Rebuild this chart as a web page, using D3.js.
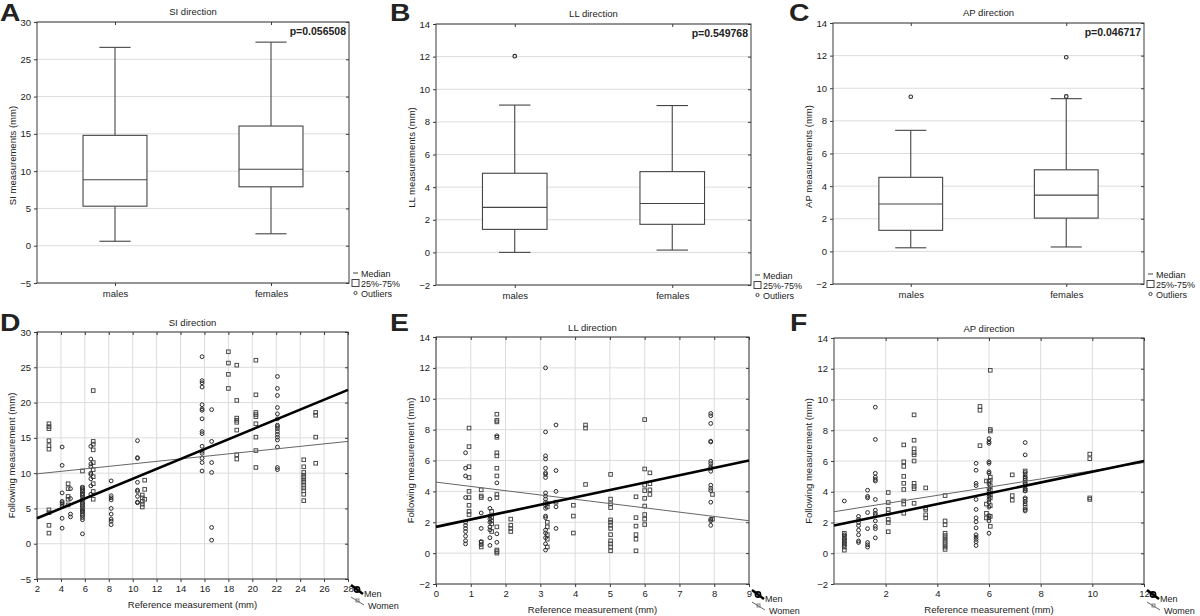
<!DOCTYPE html>
<html><head><meta charset="utf-8">
<script src="https://cdn.jsdelivr.net/npm/d3@7"></script>
<style>
body{margin:0;background:#fff}
text{font-family:"Liberation Sans",Arial,sans-serif;fill:#222}
</style>
</head><body>
<svg id="c" width="1200" height="616"></svg>
<script>
// ---------- DATA ----------
const boxGroups = ["males", "females"];
// [min, q1, median, q3, max]
const siMales   = [0.6, 5.3, 8.85, 14.8, 26.6];
const siFemales = [1.6, 7.9, 10.25, 16.05, 27.3];
const llMales   = [0.0, 1.41, 2.76, 4.85, 9.03];
const llFemales = [0.14, 1.72, 3.0, 4.95, 9.0];
const apMales   = [0.22, 1.29, 2.9, 4.54, 7.42];
const apFemales = [0.27, 2.04, 3.45, 5.0, 9.36];
const siMalesOut = [], siFemalesOut = [];
const llMalesOut = [12.03], llFemalesOut = [];
const apMalesOut = [9.48], apFemalesOut = [11.9, 9.5];
const pValues = ["p=0.056508", "p=0.549768", "p=0.046717"];

const siTicks = [-5, 0, 5, 10, 15, 20, 25, 30];
const smallTicks = [-2, 0, 2, 4, 6, 8, 10, 12, 14];
const siXTicks = [2, 4, 6, 8, 10, 12, 14, 16, 18, 20, 22, 24, 26, 28];
const llXTicks = [0, 1, 2, 3, 4, 5, 6, 7, 8, 9];
const apXTicks = [2, 4, 6, 8, 10, 12];

// scatter: [reference x, [following y values]]
const siMen = [
  [4.1, [13.7, 11.1, 7.2, 6.0, 5.8, 5.6, 5.3, 3.6, 2.2]],
  [4.8, [7.8, 6.4, 4.2, 3.8]],
  [5.8, [8.0, 7.7, 7.4, 7.1, 6.8, 6.2, 5.7, 5.3, 4.8, 4.5, 4.0, 3.7, 3.4, 1.4]],
  [6.5, [13.8, 12.0, 11.3, 10.9, 10.0, 9.8, 9.2, 8.2, 7.0]],
  [8.2, [8.9, 6.8, 6.5, 6.2, 5.0, 4.2, 3.5, 3.2, 2.7]],
  [10.4, [14.6, 12.2, 12.1, 8.7, 7.6, 7.4, 6.7, 5.9, 5.8]],
  [15.8, [26.5, 23.1, 22.8, 22.2, 19.7, 19.1, 18.9, 17.7, 15.9, 15.6, 13.8, 13.1, 12.8, 12.1, 11.5, 10.3]],
  [16.6, [19.0, 14.5, 11.5, 10.1, 2.3, 0.5]],
  [22.1, [23.7, 22.0, 21.0, 19.3, 18.4, 17.7, 16.8, 16.6, 16.3, 15.9, 15.5, 15.1, 14.7, 13.7, 10.8, 10.5]]
];
const siWomen = [
  [3.0, [17.0, 16.6, 16.3, 14.6, 13.9, 13.4, 4.8, 4.4, 2.6, 1.5]],
  [4.6, [8.5, 7.8, 6.7, 6.3, 5.5]],
  [5.8, [10.3, 7.9, 7.5, 7.0, 6.5, 6.0, 5.5, 5.0, 4.6, 4.2]],
  [6.7, [21.7, 14.5, 14.1, 13.3, 11.5, 10.5, 9.5, 8.5, 7.4, 6.3]],
  [10.8, [6.9, 6.5, 6.0, 5.6, 5.2]],
  [11.0, [9.0, 7.7, 6.3]],
  [18.0, [27.2, 25.6, 24.0, 22.0]],
  [18.7, [25.3, 20.3, 17.8, 17.5, 17.2, 16.1, 12.6, 12.0]],
  [20.3, [26.0, 21.1, 18.6, 18.3, 18.0, 17.0, 15.1, 13.2, 10.8]],
  [24.3, [11.9, 10.9, 10.1, 9.7, 9.4, 9.0, 8.7, 8.3, 7.9, 7.5, 7.0, 6.1]],
  [25.3, [18.6, 18.2, 15.1, 11.4]]
];
const llMen = [
  [0.85, [6.5, 5.5, 5.0, 3.6, 2.0, 1.8, 1.6, 1.4, 1.1, 0.8, 0.6]],
  [1.3, [2.6, 1.6, 0.75, 0.55]],
  [1.55, [3.5, 2.9, 2.4, 2.2, 2.0, 1.7, 1.5, 1.0, 0.5]],
  [1.75, [7.6, 4.55, 1.25, 0.7]],
  [3.15, [12.0, 7.85, 6.3, 6.1, 5.5, 5.2, 5.1, 4.9, 3.9, 3.7, 3.5, 3.3, 3.1, 2.9, 2.4, 2.3, 1.5, 1.3, 1.0, 0.6, 0.2]],
  [3.45, [8.3, 5.35, 4.0, 3.0, 1.6]],
  [7.9, [9.05, 8.9, 8.4, 7.25, 7.2, 5.95, 5.8, 5.6, 5.5, 5.3, 4.4, 4.2, 4.05, 3.3, 2.2, 2.1, 1.8]]
];
const llWomen = [
  [0.95, [8.1, 6.9, 5.6, 4.9, 4.0, 3.6, 3.1, 2.7, 2.5]],
  [1.3, [4.1, 3.7, 3.6, 0.7, 0.4]],
  [1.6, [2.7, 2.3, 2.1, 1.9, 1.4]],
  [1.75, [9.0, 8.6, 8.5, 7.5, 6.5, 6.3, 5.5, 5.0, 3.8, 3.6, 1.7, 0.2, 0.1, 0.0]],
  [2.15, [2.2, 1.8, 1.6, 1.4]],
  [3.2, [3.2, 3.0, 2.0, 1.7, 1.2, 0.9, 0.4]],
  [3.45, [3.3]],
  [3.95, [3.1, 2.4, 1.3]],
  [4.3, [8.3, 8.1, 4.45]],
  [5.02, [5.1, 3.5, 3.2, 2.95, 2.15, 2.0, 1.8, 1.6, 1.2, 0.8, 0.6, 0.4, 0.15]],
  [5.75, [3.65, 2.3, 1.75, 1.2, 0.9, 0.15]],
  [6.0, [8.65, 5.45, 4.4, 4.05, 3.55, 3.05, 2.5, 2.2, 1.85]],
  [6.15, [5.2, 4.5, 4.1, 3.8]],
  [7.95, [3.8, 2.2]]
];
const apMen = [
  [0.4, [3.4, 1.2, 0.9, 0.7, 0.5]],
  [0.95, [2.4, 2.2, 2.0, 1.8, 1.5, 1.2, 0.8, 0.7]],
  [1.3, [4.1, 3.7, 3.6, 2.65, 1.6, 0.7, 0.55, 0.4]],
  [1.6, [9.5, 7.4, 5.2, 4.95, 4.8, 4.7, 3.5, 2.8, 2.6, 2.5, 2.1, 1.75, 1.6, 1.0]],
  [5.5, [5.85, 5.4, 4.55, 4.4, 3.5, 2.85, 2.3, 2.05, 1.65, 1.2, 1.05, 0.9, 0.75, 0.5]],
  [6.0, [7.45, 7.25, 7.15, 5.95, 5.85, 5.3, 5.2, 4.7, 4.5, 4.2, 4.0, 3.85, 3.7, 3.5, 3.3, 3.0, 2.45, 2.3, 2.1, 1.3]],
  [7.4, [7.2, 6.4, 5.25, 5.1, 4.95, 4.75, 4.55, 4.4, 4.2, 4.05, 3.6, 3.35, 3.2, 2.85, 2.75]]
];
const apWomen = [
  [0.4, [1.3, 1.1, 1.0, 0.8, 0.6, 0.4, 0.2]],
  [2.1, [3.95, 3.3, 2.85, 2.6, 2.2, 2.0, 1.4]],
  [2.7, [7.05, 5.95, 5.65, 5.0, 4.55, 4.15, 3.4, 3.2, 2.6]],
  [3.1, [9.0, 7.35, 6.8, 6.55, 6.4, 6.0, 4.55, 4.35, 4.2, 3.25]],
  [3.55, [4.25, 2.95, 2.85, 2.5, 2.3]],
  [4.3, [3.75, 2.1, 1.85, 1.3, 1.15, 1.0, 0.85, 0.7, 0.55, 0.4, 0.25]],
  [5.65, [9.55, 9.3, 7.0]],
  [5.9, [4.7, 3.2, 2.6, 2.3]],
  [6.05, [11.9, 8.05, 7.95, 4.95, 4.75, 4.4, 4.1, 3.8, 3.6, 3.1, 2.4, 1.75]],
  [6.9, [5.1, 3.75, 3.45]],
  [7.4, [5.35, 4.85, 4.5, 4.1, 3.5, 3.0]],
  [9.9, [6.45, 6.15, 3.6, 3.5]]
];
// fitted regression lines: [[x0,y0],[x1,y1]]
const siMenFit = [[2, 3.6], [28, 21.8]];
const siWomenFit = [[2, 9.9], [28, 14.5]];
const llMenFit = [[0, 1.7], [9, 6.0]];
const llWomenFit = [[0, 4.6], [9, 2.1]];
const apMenFit = [[0, 1.8], [12, 6.0]];
const apWomenFit = [[0, 2.7], [12, 5.9]];

// ---------- DRAWING ----------
const svg = d3.select("#c");
const GRID = "#dcdcdc", FRAME = "#3a3a3a", MARK = "#2a2a2a";
const TICK_FS = "9.5px", LAB_FS = "9.5px", TITLE_FS = "9.5px", LEG_FS = "9px";

function frameAndTicks(g, w, h, x, y, xt, yt, vgrid) {
  g.append("g").selectAll("line").data(yt).join("line")
    .attr("x1", 0).attr("x2", w).attr("y1", d => y(d)).attr("y2", d => y(d))
    .attr("stroke", GRID).attr("stroke-width", 1);
  if (vgrid) g.append("g").selectAll("line").data(xt).join("line")
    .attr("y1", 0).attr("y2", h).attr("x1", d => x(d)).attr("x2", d => x(d))
    .attr("stroke", GRID).attr("stroke-width", 1);
  const ax = d3.axisLeft(y).tickValues(yt).tickSize(3).tickPadding(3).tickFormat(d3.format("d"));
  const ga = g.append("g").call(ax);
  ga.select(".domain").remove();
  ga.selectAll("line").attr("stroke", FRAME);
  ga.selectAll("text").style("font-size", TICK_FS).attr("fill", "#222");
  const ar = d3.axisRight(y).tickValues(yt).tickSize(-3).tickFormat("");
  const gr = g.append("g").attr("transform", `translate(${w},0)`).call(ar);
  gr.select(".domain").remove(); gr.selectAll("line").attr("stroke", FRAME);
  const bx = g.append("g").attr("transform", `translate(0,${h})`).call(xt.ax);
  bx.select(".domain").remove(); bx.selectAll("line").attr("stroke", FRAME);
  bx.selectAll("text").style("font-size", TICK_FS).attr("fill", "#222");
  const tx = g.append("g").call(xt.top);
  tx.select(".domain").remove(); tx.selectAll("line").attr("stroke", FRAME);
  g.append("rect").attr("x", 0).attr("y", 0).attr("width", w).attr("height", h)
    .attr("fill", "none").attr("stroke", FRAME).attr("stroke-width", 1);
}

function letter(t, x, y) {
  svg.append("text").attr("transform", `translate(${x},${y}) scale(1.18,1)`).text(t)
    .style("font-size", "24px").style("font-weight", "bold").attr("fill", "#000");
}

function boxPanel(L, title, ylabel, yDomain, yt, stats, outs, p) {
  const w = L.r - L.l, h = L.b - L.t;
  const g = svg.append("g").attr("transform", `translate(${L.l},${L.t})`);
  const x = d3.scalePoint().domain(boxGroups).range([0, w]).padding(0.5);
  const y = d3.scaleLinear().domain(yDomain).range([h, 0]);
  const xt = boxGroups.slice();
  xt.ax = d3.axisBottom(x).tickSize(3).tickPadding(4);
  xt.top = d3.axisTop(x).tickSize(-3).tickFormat("");
  frameAndTicks(g, w, h, x, y, xt, yt, false);
  const bw = w * 0.205, cw = w * 0.1;
  boxGroups.forEach((grp, i) => {
    const s = stats[i], cx = x(grp);
    const bg = g.append("g").attr("stroke", "#444").attr("stroke-width", 1.1).attr("fill", "none");
    bg.append("line").attr("x1", cx).attr("x2", cx).attr("y1", y(s[4])).attr("y2", y(s[3]));
    bg.append("line").attr("x1", cx).attr("x2", cx).attr("y1", y(s[1])).attr("y2", y(s[0]));
    bg.append("line").attr("x1", cx - cw / 2).attr("x2", cx + cw / 2).attr("y1", y(s[4])).attr("y2", y(s[4]));
    bg.append("line").attr("x1", cx - cw / 2).attr("x2", cx + cw / 2).attr("y1", y(s[0])).attr("y2", y(s[0]));
    bg.append("rect").attr("x", cx - bw / 2).attr("width", bw).attr("y", y(s[3])).attr("height", y(s[1]) - y(s[3])).attr("fill", "#fff");
    bg.append("line").attr("x1", cx - bw / 2).attr("x2", cx + bw / 2).attr("y1", y(s[2])).attr("y2", y(s[2]));
    bg.selectAll("circle").data(outs[i]).join("circle")
      .attr("cx", cx).attr("cy", d => y(d)).attr("r", 1.8).attr("stroke", MARK);
  });
  svg.append("text").attr("x", (L.l + L.r) / 2).attr("y", L.t - 7).attr("text-anchor", "middle")
    .style("font-size", TITLE_FS).text(title);
  svg.append("text").attr("x", L.r - 3).attr("y", L.t + 13).attr("text-anchor", "end")
    .style("font-size", "10.5px").style("font-weight", "bold").attr("fill", "#111").text(p);
  svg.append("text").attr("transform", `translate(${L.l - 21},${(L.t + L.b) / 2 + 3}) rotate(-90)`)
    .attr("text-anchor", "middle").style("font-size", LAB_FS).text(ylabel);
  // legend
  const lx = L.r + 3, ly = L.b;
  const lg = svg.append("g");
  lg.append("line").attr("x1", lx + 1).attr("x2", lx + 6).attr("y1", ly - 10).attr("y2", ly - 10).attr("stroke", "#444");
  lg.append("text").attr("x", lx + 9).attr("y", ly - 6.5).style("font-size", LEG_FS).text("Median");
  lg.append("rect").attr("x", lx).attr("y", ly - 3.5).attr("width", 7).attr("height", 7).attr("fill", "none").attr("stroke", "#444");
  lg.append("text").attr("x", lx + 9).attr("y", ly + 3.5).style("font-size", LEG_FS).text("25%-75%");
  lg.append("circle").attr("cx", lx + 3.5).attr("cy", ly + 10).attr("r", 1.6).attr("fill", "none").attr("stroke", "#444");
  lg.append("text").attr("x", lx + 9).attr("y", ly + 13.5).style("font-size", LEG_FS).text("Outliers");
}

function scatterPanel(L, title, xDomain, xTicks, yDomain, yt, men, women, menFit, womenFit) {
  const w = L.r - L.l, h = L.b - L.t;
  const g = svg.append("g").attr("transform", `translate(${L.l},${L.t})`);
  const x = d3.scaleLinear().domain(xDomain).range([0, w]);
  const y = d3.scaleLinear().domain(yDomain).range([h, 0]);
  const xt = xTicks.slice();
  xt.ax = d3.axisBottom(x).tickValues(xTicks).tickSize(3).tickPadding(3).tickFormat(d3.format("d"));
  xt.top = d3.axisTop(x).tickValues(xTicks).tickSize(-3).tickFormat("");
  frameAndTicks(g, w, h, x, y, xt, yt, true);
  const flat = arr => arr.flatMap(([rx, ys]) => ys.map(v => [rx, v]));
  const s = 3.6;
  g.append("g").selectAll("rect").data(flat(women)).join("rect")
    .attr("x", d => x(d[0]) - s / 2).attr("y", d => y(d[1]) - s / 2)
    .attr("width", s).attr("height", s).attr("fill", "none").attr("stroke", "#4a4a4a").attr("stroke-width", 1);
  g.append("g").selectAll("circle").data(flat(men)).join("circle")
    .attr("cx", d => x(d[0])).attr("cy", d => y(d[1])).attr("r", 1.9)
    .attr("fill", "none").attr("stroke", MARK).attr("stroke-width", 1);
  const line = d3.line().x(d => x(d[0])).y(d => y(d[1]));
  g.append("path").attr("d", line(womenFit)).attr("stroke", "#666").attr("stroke-width", 1).attr("fill", "none");
  g.append("path").attr("d", line(menFit)).attr("stroke", "#000").attr("stroke-width", 2.6).attr("fill", "none");
  svg.append("text").attr("x", (L.l + L.r) / 2).attr("y", L.t - 6).attr("text-anchor", "middle")
    .style("font-size", TITLE_FS).text(title);
  svg.append("text").attr("x", (L.l + L.r) / 2).attr("y", L.b + 29).attr("text-anchor", "middle")
    .style("font-size", LAB_FS).text("Reference measurement (mm)");
  svg.append("text").attr("transform", `translate(${L.l - 22},${(L.t + L.b) / 2}) rotate(-90)`)
    .attr("text-anchor", "middle").style("font-size", LAB_FS).text("Following measurement (mm)");
  // legend
  const lx = L.r + 2, ly = L.b + 10;
  const lg = svg.append("g");
  lg.append("line").attr("x1", lx + 1).attr("y1", ly - 4).attr("x2", lx + 13).attr("y2", ly + 5).attr("stroke", "#000").attr("stroke-width", 2.6);
  lg.append("circle").attr("cx", lx + 7).attr("cy", ly + 0.5).attr("r", 2.6).attr("fill", "none").attr("stroke", "#000").attr("stroke-width", 1.6);
  lg.append("text").attr("x", lx + 14).attr("y", ly + 8).style("font-size", LEG_FS).text("Men");
  lg.append("line").attr("x1", lx + 1).attr("y1", ly + 8).attr("x2", lx + 14).attr("y2", ly + 16).attr("stroke", "#666").attr("stroke-width", 1);
  lg.append("rect").attr("x", lx + 6).attr("y", ly + 10).attr("width", 3).attr("height", 3).attr("fill", "none").attr("stroke", "#666").attr("stroke-width", 0.8);
  lg.append("text").attr("x", lx + 18).attr("y", ly + 20).style("font-size", LEG_FS).text("Women");
}

const LA = {l: 37, t: 22, r: 349, b: 283};
const LB = {l: 436, t: 24, r: 751, b: 285};
const LC = {l: 833, t: 23, r: 1144, b: 284};
const LD = {l: 37, t: 332, r: 348, b: 579};
const LE = {l: 436, t: 337, r: 749, b: 584};
const LF = {l: 834, t: 338, r: 1144, b: 584};

boxPanel(LA, "SI direction", "SI measurements (mm)", [-5, 30], siTicks, [siMales, siFemales], [siMalesOut, siFemalesOut], pValues[0]);
boxPanel(LB, "LL direction", "LL measurements (mm)", [-2, 14], smallTicks, [llMales, llFemales], [llMalesOut, llFemalesOut], pValues[1]);
boxPanel(LC, "AP direction", "AP measurements (mm)", [-2, 14], smallTicks, [apMales, apFemales], [apMalesOut, apFemalesOut], pValues[2]);
scatterPanel(LD, "SI direction", [2, 28], siXTicks, [-5, 30], siTicks, siMen, siWomen, siMenFit, siWomenFit);
scatterPanel(LE, "LL direction", [0, 9], llXTicks, [-2, 14], smallTicks, llMen, llWomen, llMenFit, llWomenFit);
scatterPanel(LF, "AP direction", [0, 12], apXTicks, [-2, 14], smallTicks, apMen, apWomen, apMenFit, apWomenFit);

letter("A", 0, 21); letter("B", 390, 21); letter("C", 789, 21);
letter("D", 0, 331); letter("E", 390, 331); letter("F", 790, 331);
</script>
</body></html>
